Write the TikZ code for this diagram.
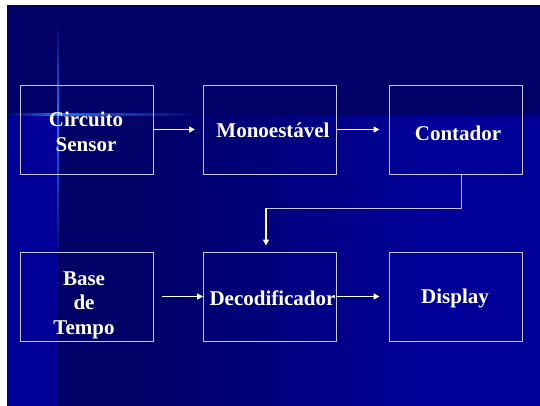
\documentclass[tikz,border=0pt]{standalone}
\usepackage{fontspec}
\setmainfont{Liberation Serif}
\usetikzlibrary{arrows.meta,calc}
\definecolor{navy}{RGB}{0,0,102}
\definecolor{bblue}{RGB}{0,0,153}
\definecolor{flare}{RGB}{40,110,255}
\definecolor{boxline}{RGB}{200,200,230}
\tikzset{
  blockbox/.style={draw=boxline, line width=0.9bp, minimum width=133bp, minimum height=89bp, inner sep=0pt},
  blocktext/.style={text=white, font=\fontsize{21bp}{24.5bp}\selectfont\bfseries, align=center, inner sep=0pt},
  arr/.style={draw=white, line width=1.5bp, -{Triangle[length=6bp,width=6bp]}}
}
\begin{document}
\begin{tikzpicture}[x=1bp,y=-1bp]
\useasboundingbox (0,0) rectangle (540,405);
% background
\fill[white] (0,0) rectangle (7,405);
\fill[white] (0,0) rectangle (540,5);
\begin{scope}
\clip (7,5) rectangle (550,415);
\fill[navy] (0,0) rectangle (550,415);
\shade[left color=navy, right color=bblue] (140,110) rectangle (430,415);
\fill[navy] (58,115) rectangle (150.5,415);
\fill[bblue] (419.5,115) rectangle (550,415);
\fill[bblue] (0,115) rectangle (58,415);
\fill[navy] (140,105) rectangle (430,115);
% flare
\shade[left color=navy, right color=flare] (7,113.3) rectangle (58,115.3);
\shade[left color=flare, right color=navy] (58,113.3) rectangle (200,115.3);
\shade[top color=navy, bottom color=flare] (57,20) rectangle (59.2,114.3);
\shade[top color=flare, bottom color=navy] (57,114.3) rectangle (59.2,265);
\shade[inner color=white, outer color=flare, opacity=0.8] (58,114.3) circle (2.2);
\end{scope}
% boxes
\node[blockbox] (sensor) at (86.5,129.5) {};
\node[blockbox] (mono) at (270,129.5) {};
\node[blockbox] (cont) at (455.5,129.5) {};
\node[blockbox] (base) at (86.5,296.5) {};
\node[blockbox] (deco) at (270,296.5) {};
\node[blockbox] (disp) at (455.5,296.5) {};
% texts
\node[blocktext] (tsensor) at (86,132) {Circuito\\Sensor};
\node[blocktext] (tmono) at (273,130) {Monoestável};
\node[blocktext] (tcont) at (458,133) {Contador};
\node[blocktext] (tbase) at (84,305) {Base\\de\\Tempo};
\node[blocktext] (tdeco) at (272.5,298) {Decodificador};
\node[blocktext] (tdisp) at (455,298) {Display};
% connectors
\draw[arr, shorten >=8bp] (sensor.east) -- (mono.west);
\draw[arr, shorten >=9bp] (mono.east) -- (cont.west);
\draw[arr, shorten <=9bp] (base.east) -- (deco.west);
\draw[arr, shorten >=9bp] (deco.east) -- (disp.west);
\coordinate (c1) at (461,208);
\coordinate (c2) at (266,208);
\draw[draw=boxline, line width=1bp] (cont.south -| c1) -- (c1) -- (c2);
\draw[arr, shorten >=6bp] (c2) -- (c2 |- deco.north);
\end{tikzpicture}
\end{document}
